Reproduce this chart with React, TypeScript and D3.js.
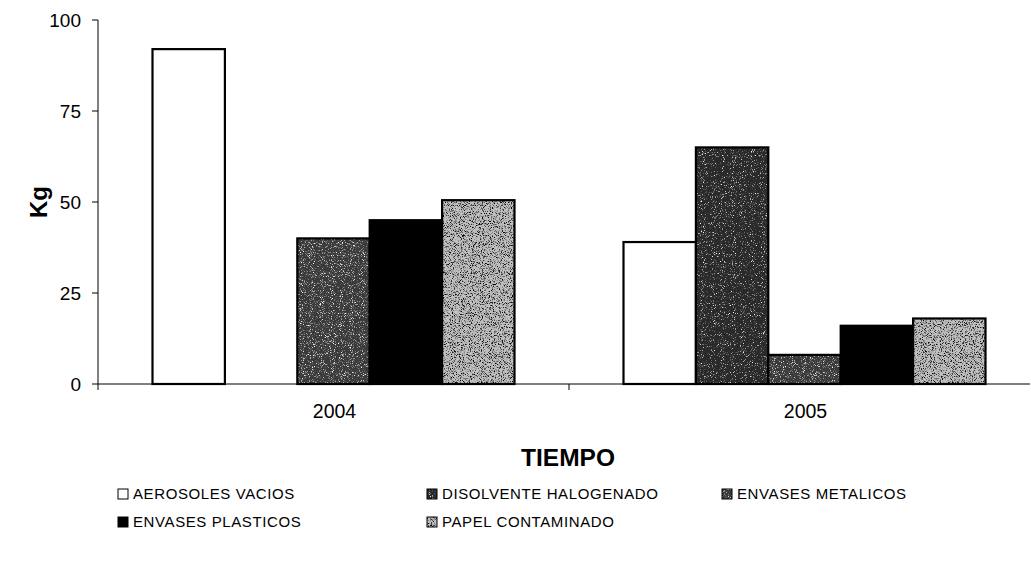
import React from 'react'
import * as d3 from 'd3'

const years = ['2004', '2005']
const seriesNames = [
  'AEROSOLES VACIOS',
  'DISOLVENTE HALOGENADO',
  'ENVASES METALICOS',
  'ENVASES PLASTICOS',
  'PAPEL CONTAMINADO',
]
const aerosoles = [92, 39]
const disolvente = [0, 65]
const metalicos = [40, 8]
const plasticos = [45, 16]
const papel = [50.5, 18]
const yTicks = [0, 25, 50, 75, 100]

const values = [aerosoles, disolvente, metalicos, plasticos, papel]
const fills = ['#ffffff', '#2a2a2a', '#3a3a3a', '#000000', '#bfbfbf']
// speckle overlay: white grain on dark bars, dark grain on light bar
const speckle = [null, 'url(#speckW)', 'url(#speckW2)', null, 'url(#speckK)']

const W = 1031
const H = 564
const axisX = 98

const App: React.FC = () => {
  const y = d3.scaleLinear().domain([0, 100]).range([384, 20])
  const x0 = d3.scaleBand().domain(years).range([axisX, axisX + 942])
  const groupW = 362
  const x1 = d3.scaleBand().domain(seriesNames).range([0, groupW])

  const legendPos = [
    [118, 494],
    [427, 494],
    [722, 494],
    [118, 522],
    [427, 522],
  ]

  return (
    <svg
      width={W}
      height={H}
      style={{ position: 'absolute', left: 0, top: 0, background: '#fff' }}
      fontFamily="'Liberation Sans', Arial, sans-serif"
    >
      <defs>
        <filter id="speckW" x="0" y="0" width="1" height="1">
          <feTurbulence type="fractalNoise" baseFrequency="1.1" numOctaves={2} seed={3} />
          <feColorMatrix type="matrix" values="0 0 0 0 1  0 0 0 0 1  0 0 0 0 1  4 0 0 0 -2.35" />
        </filter>
        <filter id="speckW2" x="0" y="0" width="1" height="1">
          <feTurbulence type="fractalNoise" baseFrequency="1.1" numOctaves={2} seed={7} />
          <feColorMatrix type="matrix" values="0 0 0 0 1  0 0 0 0 1  0 0 0 0 1  4 0 0 0 -2.2" />
        </filter>
        <filter id="speckK" x="0" y="0" width="1" height="1">
          <feTurbulence type="fractalNoise" baseFrequency="1.1" numOctaves={2} seed={5} />
          <feColorMatrix type="matrix" values="0 0 0 0 0  0 0 0 0 0  0 0 0 0 0  4 0 0 0 -2.0" />
        </filter>
      </defs>

      {/* y axis */}
      <line x1={axisX} x2={axisX} y1={y(100)} y2={y(0) + 6} stroke="#000" strokeWidth={1} />
      {yTicks.map((t) => (
        <g key={t}>
          <line x1={axisX - 6} x2={axisX} y1={y(t)} y2={y(t)} stroke="#000" />
          <text x={axisX - 17} y={y(t)} dy="0.36em" textAnchor="end" fontSize={19}>
            {t}
          </text>
        </g>
      ))}
      <text
        transform={`translate(47, ${y(50)}) rotate(-90)`}
        textAnchor="middle"
        fontSize={24}
        fontWeight="bold"
      >
        Kg
      </text>

      {/* x axis */}
      <line x1={axisX} x2={1030} y1={y(0)} y2={y(0)} stroke="#000" strokeWidth={1} />
      {years.map((yr, i) => (
        <g key={yr}>
          {i > 0 && <line x1={x0(yr)!} x2={x0(yr)!} y1={y(0)} y2={y(0) + 6} stroke="#000" />}
          <text
            x={x0(yr)! + x0.bandwidth() / 2 + 1}
            y={418}
            textAnchor="middle"
            fontSize={19.5}
          >
            {yr}
          </text>
        </g>
      ))}
      <text x={568} y={466} textAnchor="middle" fontSize={24.5} fontWeight="bold">
        TIEMPO
      </text>

      {/* bars */}
      {years.map((yr, i) => {
        const gx = x0(yr)! + (x0.bandwidth() - groupW) / 2
        return (
          <g key={yr} transform={`translate(${gx},0)`}>
            {seriesNames.map((s, j) => {
              const v = values[j][i]
              if (v <= 0) return null
              const bx = x1(s)!
              const by = y(v)
              const bw = x1.bandwidth()
              const bh = y(0) - y(v)
              return (
                <g key={s}>
                  <rect x={bx} y={by} width={bw} height={bh} fill={fills[j]} />
                  {speckle[j] && (
                    <rect x={bx} y={by} width={bw} height={bh} fill="#fff" filter={speckle[j]!} />
                  )}
                  <rect
                    x={bx}
                    y={by}
                    width={bw}
                    height={bh}
                    fill="none"
                    stroke="#000"
                    strokeWidth={2.2}
                  />
                </g>
              )
            })}
          </g>
        )
      })}

      {/* legend */}
      {seriesNames.map((s, j) => (
        <g key={s} transform={`translate(${legendPos[j][0]},${legendPos[j][1]})`}>
          <rect x={0} y={-5} width={10} height={10} fill={fills[j]} />
          {speckle[j] && <rect x={0} y={-5} width={10} height={10} fill="#fff" filter={speckle[j]!} />}
          <rect x={0} y={-5} width={10} height={10} fill="none" stroke="#000" strokeWidth={1} />
          <text x={15} y={0} dy="0.36em" fontSize={15} letterSpacing={0.6}>
            {s}
          </text>
        </g>
      ))}
    </svg>
  )
}

export default App
